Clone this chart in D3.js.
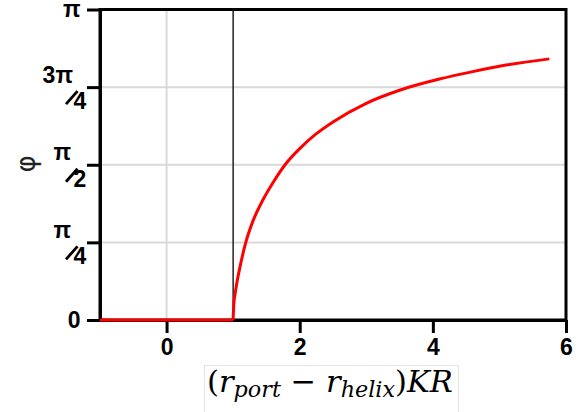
<!DOCTYPE html>
<html>
<head>
<meta charset="utf-8">
<script src="https://cdn.jsdelivr.net/npm/d3@7"></script>
<style>
  body { margin: 0; background: #fff; }
  svg { display: block; }
</style>
</head>
<body>
<div class="canvas"></div>
<script>
// data
const xTicks = [0, 2, 4, 6];
const yTickFracs = [0, 0.25, 0.5, 0.75, 1];          // in units of pi
const yTickNum = ["0", "π", "π", "3π", "π"];
const yTickDen = ["", "4", "2", "4", ""];
const flatX = [-1, 1];
const flatPhi = [0, 0];
const curveX = [1.0, 1.01, 1.03, 1.06, 1.1, 1.19, 1.3, 1.45, 1.6, 1.78, 2.0, 2.25, 2.5, 3.0, 3.5, 4.1, 4.6, 5.1, 5.75];
const curvePhi = [0, 0.05, 0.085, 0.125, 0.168, 0.25, 0.32, 0.388, 0.443, 0.5, 0.552, 0.6, 0.638, 0.698, 0.74, 0.776, 0.8, 0.821, 0.841];
const gridX = [0];
const gridPhi = [0.25, 0.5, 0.75];
const markerX = 1;

const W = 582, H = 412;
const m = {t: 9.5, r: 16, b: 92, l: 100};

const svg = d3.select('.canvas').append('svg')
  .attr('width', W).attr('height', H);

const x = d3.scaleLinear().domain([-1, 6]).range([m.l, W - m.r]);
const y = d3.scaleLinear().domain([0, Math.PI]).range([H - m.b, m.t]);

// grid
svg.append('g').selectAll('line.gy')
  .data(gridPhi).enter().append('line')
  .attr('x1', x(-1)).attr('x2', x(6))
  .attr('y1', d => y(d * Math.PI)).attr('y2', d => y(d * Math.PI))
  .attr('stroke', '#d9d9d9').attr('stroke-width', 2);
svg.append('g').selectAll('line.gx')
  .data(gridX).enter().append('line')
  .attr('x1', d => x(d)).attr('x2', d => x(d))
  .attr('y1', y(0)).attr('y2', y(Math.PI))
  .attr('stroke', '#d9d9d9').attr('stroke-width', 2);

// thin black marker at x = 1
svg.append('line')
  .attr('x1', x(markerX)).attr('x2', x(markerX))
  .attr('y1', y(0)).attr('y2', y(Math.PI))
  .attr('stroke', '#222').attr('stroke-width', 1.5);

// frame
svg.append('rect')
  .attr('x', x(-1)).attr('y', y(Math.PI))
  .attr('width', x(6) - x(-1)).attr('height', y(0) - y(Math.PI))
  .attr('fill', 'none').attr('stroke', '#000').attr('stroke-width', 3);

// axes
const xAxis = svg.append('g')
  .attr('transform', `translate(0,${y(0)})`)
  .call(d3.axisBottom(x).tickValues(xTicks).tickFormat(d3.format('d'))
    .tickSize(13).tickSizeOuter(0).tickPadding(6));
const yAxis = svg.append('g')
  .attr('transform', `translate(${x(-1)},0)`)
  .call(d3.axisLeft(y).tickValues(yTickFracs.map(d => d * Math.PI))
    .tickSize(13).tickSizeOuter(0).tickFormat(''));

[xAxis, yAxis].forEach(a => {
  a.select('.domain').attr('stroke', '#000').attr('stroke-width', 3);
  a.selectAll('.tick line').attr('stroke', '#000').attr('stroke-width', 3);
});
xAxis.selectAll('.tick text')
  .attr('font-family', '"Liberation Sans", Arial, sans-serif')
  .attr('font-weight', 'bold').attr('font-size', 23).attr('fill', '#000');

// y tick labels (stacked fractions)
const lab = svg.append('g')
  .attr('font-family', '"Liberation Sans", Arial, sans-serif')
  .attr('font-weight', 'bold').attr('font-size', 23).attr('fill', '#000');
yTickFracs.forEach((f, i) => {
  const ty = y(f * Math.PI);
  if (yTickDen[i] === '') {
    const isDigit = /\d/.test(yTickNum[i]);
    lab.append('text').attr('x', 80.5).attr('y', ty + (isDigit ? 8 : 7.5))
      .attr('text-anchor', 'end').text(yTickNum[i]);
  } else {
    const numX = yTickNum[i].length > 1 ? 73 : 71;
    lab.append('text').attr('x', numX).attr('y', ty - 4.5).attr('text-anchor', 'end').text(yTickNum[i]);
    lab.append('line').attr('x1', 66).attr('y1', ty + 17).attr('x2', 77.5).attr('y2', ty + 4)
      .attr('stroke', '#000').attr('stroke-width', 2.8);
    lab.append('text').attr('x', 73.5).attr('y', ty + 22).attr('text-anchor', 'start').text(yTickDen[i]);
  }
});

// series
const line = d3.line().x(d => x(d[0])).y(d => y(d[1] * Math.PI));
svg.append('path')
  .datum(flatX.map((d, i) => [d, flatPhi[i]]))
  .attr('d', line)
  .attr('fill', 'none').attr('stroke', '#ff0000').attr('stroke-width', 3);
svg.append('path')
  .datum(curveX.map((d, i) => [d, curvePhi[i]]))
  .attr('d', line.curve(d3.curveMonotoneX))
  .attr('fill', 'none').attr('stroke', '#ff0000').attr('stroke-width', 3)
  .attr('stroke-linejoin', 'round');

// axis titles
svg.append('text')
  .attr('transform', 'translate(26,164) rotate(-90)')
  .attr('text-anchor', 'middle').attr('dominant-baseline', 'central')
  .attr('font-family', '"DejaVu Sans", sans-serif').attr('font-size', 26).attr('fill', '#222')
  .text('φ');

svg.append('rect')
  .attr('x', 204.5).attr('y', 365.5).attr('width', 254).attr('height', 50)
  .attr('fill', 'none').attr('stroke', '#e4e4e4').attr('stroke-width', 1);

const base = 22, sub = 16;
const xt = svg.append('text')
  .attr('x', 207).attr('y', 392)
  .attr('font-family', '"DejaVu Serif", "Liberation Serif", serif')
  .attr('font-size', base).attr('fill', '#000');
xt.append('tspan').text('(');
xt.append('tspan').attr('font-style', 'italic').text('r');
xt.append('tspan').attr('class', 'sub').attr('font-style', 'italic').attr('font-size', sub).attr('dy', 5).text('port');
xt.append('tspan').attr('dy', -5).text(' − ');
xt.append('tspan').attr('font-style', 'italic').text('r');
xt.append('tspan').attr('class', 'sub').attr('font-style', 'italic').attr('font-size', sub).attr('dy', 5).text('helix');
xt.append('tspan').attr('dy', -5).text(')');
xt.append('tspan').attr('font-style', 'italic').text('KR');

// fit title to the width of the pasted label in the picture
const len = xt.node().getComputedTextLength();
const k = 246 / len;
xt.attr('font-size', base * k);
xt.selectAll('tspan.sub').attr('font-size', sub * k);
</script>
</body>
</html>
